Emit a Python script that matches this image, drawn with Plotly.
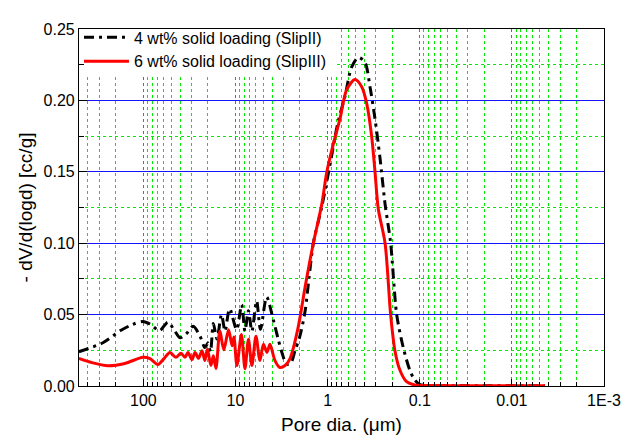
import plotly.graph_objects as go

# Pore diameter (µm) and -dV/d(logd) (cc/g)
slip2_d = [501, 275, 175, 130, 101, 84.9, 66.7, 54.2, 45.5, 40.1, 34.5, 28.8, 24.3, 21.5,
           19.9, 18.7, 17.4, 15.9, 14.2, 13.0, 11.9, 11.5, 9.73, 8.58, 7.90, 7.24, 6.64,
           5.90, 5.36, 4.59, 3.89, 3.44, 3.13, 2.79, 2.50, 2.26, 2.00, 1.76, 1.59, 1.43,
           1.16, 0.944, 0.773, 0.649, 0.549, 0.465, 0.394, 0.347, 0.306, 0.270, 0.238,
           0.207, 0.178, 0.151, 0.128, 0.113, 0.0994, 0.0774, 0.0222, 0.00437]
slip2_v = [0.0240, 0.0303, 0.0390, 0.0432, 0.0452, 0.0434, 0.0388, 0.0447, 0.0384, 0.0338,
           0.0363, 0.0418, 0.0349, 0.0269, 0.0301, 0.0240, 0.0438, 0.0329, 0.0500, 0.0384,
           0.0521, 0.0541, 0.0395, 0.0569, 0.0384, 0.0527, 0.0384, 0.0596, 0.0397, 0.0623,
           0.0464, 0.0327, 0.0233, 0.0151, 0.0164, 0.0247, 0.0349, 0.0521, 0.0760, 0.100,
           0.1253, 0.1548, 0.1845, 0.2028, 0.2233, 0.2301, 0.2267, 0.2096, 0.187, 0.1596,
           0.1274, 0.100, 0.050, 0.0269, 0.011, 0.0041, 0.001, 0.0003, 0.0002, 0.0002]

slip3_d = [501, 362, 243, 159, 101, 84.9, 69.5, 59.8, 51.5, 44.4, 39.1, 35.4, 32.8, 29.7,
           27.5, 25.2, 23.1, 21.5, 20.2, 18.5, 17.4, 16.3, 14.8, 13.4, 11.9, 10.9, 10.4,
           9.66, 8.63, 7.90, 7.24, 6.64, 6.00, 5.43, 4.98, 4.56, 4.23, 3.73, 3.30, 2.90,
           2.56, 2.10, 1.76, 1.43, 1.16, 1.02, 0.875, 0.735, 0.621, 0.505, 0.427, 0.377,
           0.333, 0.306, 0.282, 0.238, 0.207, 0.186, 0.164, 0.139, 0.113, 0.0774, 0.0222,
           0.00437]
slip3_v = [0.0194, 0.0164, 0.0142, 0.0158, 0.0201, 0.0192, 0.0151, 0.0192, 0.0235, 0.0201,
           0.0229, 0.0201, 0.0235, 0.0185, 0.0235, 0.0194, 0.0247, 0.0178, 0.0258, 0.0144,
           0.0212, 0.0123, 0.0384, 0.0253, 0.0394, 0.0281, 0.0343, 0.0144, 0.0361, 0.0121,
           0.0327, 0.0144, 0.0349, 0.0178, 0.0292, 0.0235, 0.0292, 0.0178, 0.0130, 0.0144,
           0.0192, 0.0404, 0.0690, 0.100, 0.127, 0.150, 0.1685, 0.187, 0.2076, 0.2146,
           0.2096, 0.198, 0.175, 0.150, 0.124, 0.100, 0.0498, 0.0247, 0.011, 0.003, 0.0007,
           0.0003, 0.0002, 0.0002]

names = ["4 wt% solid loading (SlipII)", "6 wt% solid loading (SlipIII)"]

x_tickvals = [100, 10, 1, 0.1, 0.01, 0.001]
x_ticktext = ["100", "10", "1", "0.1", "0.01", "1E-3"]
y_tickvals = [0.0, 0.05, 0.10, 0.15, 0.20, 0.25]
y_minorvals = [0.025, 0.075, 0.125, 0.175, 0.225]

fig = go.Figure()
fig.add_trace(go.Scatter(x=slip2_d, y=slip2_v, mode="lines", name=names[0],
                         line=dict(color="black", width=3, dash="10px,5px,3px,5px",
                                   shape="spline", smoothing=0.8)))
fig.add_trace(go.Scatter(x=slip3_d, y=slip3_v, mode="lines", name=names[1],
                         line=dict(color="red", width=3, shape="spline", smoothing=0.8)))

fig.update_xaxes(type="log", range=[2.699, -3], tickmode="array",
                 tickvals=x_tickvals, ticktext=x_ticktext, automargin=False,
                 ticks="inside", ticklen=7, tickwidth=1.2, tickcolor="black",
                 showline=True, linecolor="black", linewidth=1.2, mirror=True,
                 showgrid=True, gridcolor="rgb(90,90,255)", griddash="dot", gridwidth=1,
                 minor=dict(dtick="D1", ticks="inside", ticklen=4,
                            tickcolor="black", tickwidth=1.2, showgrid=True,
                            gridcolor="rgb(0,235,0)", griddash="dot", gridwidth=1),
                 zeroline=False,
                 title=dict(text="Pore dia. (\u03bcm)", standoff=9))
fig.update_yaxes(range=[0, 0.25], tickmode="array", tickvals=y_tickvals,
                 tickformat=".2f", automargin=False,
                 ticks="inside", ticklen=8, tickwidth=1.2, tickcolor="black",
                 showline=True, linecolor="black", linewidth=1.2, mirror=True,
                 showgrid=True, gridcolor="rgb(20,20,255)", gridwidth=1,
                 minor=dict(tickmode="array", tickvals=y_minorvals, ticks="inside",
                            ticklen=5, tickcolor="black", tickwidth=1.2, showgrid=True,
                            gridcolor="rgb(0,235,0)", griddash="dot", gridwidth=1),
                 zeroline=False,
                 title=dict(text="- dV/d(logd) [cc/g]", standoff=5))

# white box behind the legend: above the grid, below the curves
fig.add_shape(type="rect", xref="x", yref="y", x0=600, x1=0.79, y0=0.2178, y1=0.26,
              fillcolor="white", line=dict(width=0), layer="between")

# the page body adds an 8px offset, so the figure is 8px smaller and margins shifted
fig.update_layout(width=623, height=427, margin=dict(l=71, r=27, t=12, b=49),
                  plot_bgcolor="white", paper_bgcolor="white",
                  font=dict(family="Arial, Liberation Sans, sans-serif", size=16, color="black"),
                  legend=dict(x=0, y=1.024, xanchor="left", yanchor="top",
                              bgcolor="rgba(0,0,0,0)", borderwidth=0,
                              font=dict(size=16), tracegroupgap=0, itemwidth=45))

fig.write_html("out.html")
